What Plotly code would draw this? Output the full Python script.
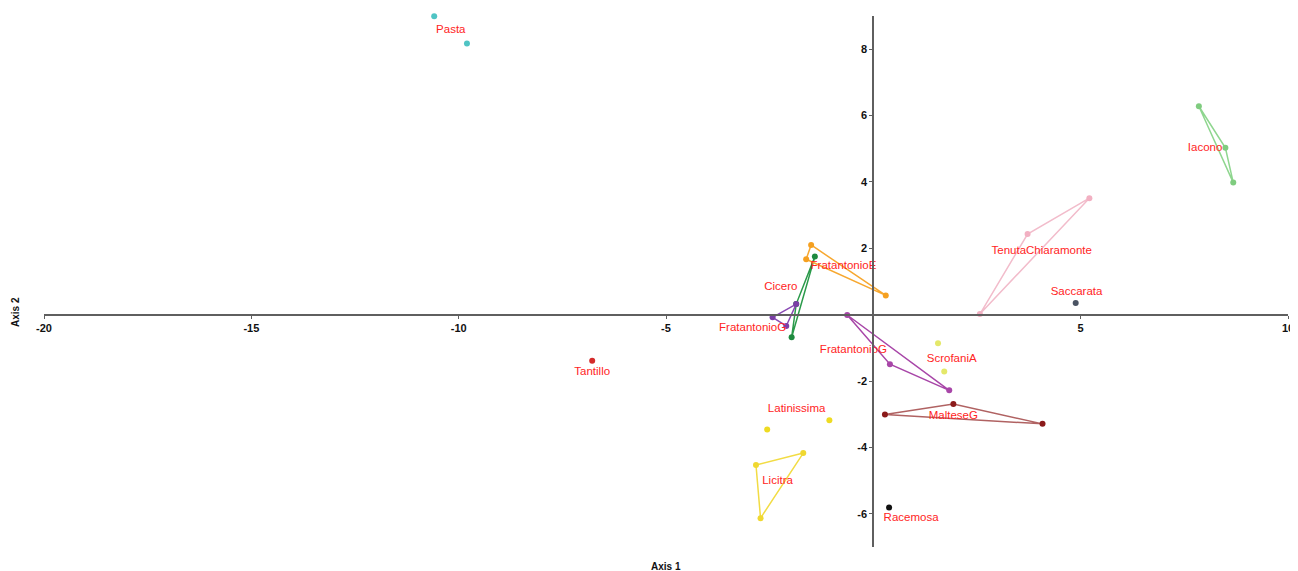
import plotly.graph_objects as go

# ---- data ----
groups = ["Pasta", "Tantillo", "Cicero", "FratantonioE", "FratantonioG", "FratantonioG2",
          "Iacono", "TenutaChiaramonte", "Saccarata", "ScrofaniA", "MalteseG",
          "Latinissima", "Licitra", "Racemosa"]
labels = ["Pasta", "Tantillo", "Cicero", "FratantonioE", "FratantonioG", "FratantonioG",
          "Iacono", "TenutaChiaramonte", "Saccarata", "ScrofaniA", "MalteseG",
          "Latinissima", "Licitra", "Racemosa"]
xs = [
    [-10.59, -9.80],
    [-6.78],
    [-1.41, -1.86, -1.97],
    [-1.50, 0.30, -1.62],
    [-2.43, -1.86, -2.10],
    [-0.63, 0.40, 1.83],
    [7.85, 8.49, 8.68],
    [5.21, 3.72, 2.57],
    [4.88],
    [1.56, 1.71],
    [0.28, 1.93, 4.08],
    [-2.56, -1.06],
    [-2.83, -1.69, -2.72],
    [0.38],
]
ys = [
    [8.99, 8.17],
    [-1.39],
    [1.75, 0.32, -0.68],
    [2.10, 0.58, 1.67],
    [-0.08, 0.32, -0.34],
    [-0.01, -1.49, -2.28],
    [6.28, 5.03, 3.98],
    [3.51, 2.43, 0.02],
    [0.35],
    [-0.86, -1.71],
    [-3.01, -2.69, -3.29],
    [-3.46, -3.18],
    [-4.53, -4.17, -6.13],
    [-5.81],
]
label_x = [-10.19, -6.78, -2.23, -0.72, -2.91, -0.48, 8.00, 4.06, 4.90, 1.89, 1.93, -1.85, -2.31, 0.91]
label_y = [8.56, -1.72, 0.84, 1.45, -0.39, -1.06, 5.03, 1.92, 0.67, -1.33, -3.07, -2.84, -5.03, -6.13]
colors = ["#4fc4c4", "#d42a2a", "#1f8a3f", "#f5a020", "#7b3fa6", "#a846a8",
          "#7fcc7f", "#f2b0c2", "#4a5363", "#e4e86a", "#8b1a1a",
          "#eedb22", "#f0d830", "#111111"]
line_colors = ["#4fc4c4", "#d42a2a", "#2a9a4a", "#f7a830", "#8a4ab4", "#a846a8",
               "#8fd68f", "#f2bccb", "#4a5363", "#e4e86a", "#b06262",
               "#eedb22", "#f2dc44", "#111111"]

x_ticks = [-20, -15, -10, -5, 5, 10]
y_ticks = [-6, -4, -2, 2, 4, 6, 8]
x_range = [-20, 10]
y_range = [-7, 9]

fig = go.Figure()
for g, x, y, c, lc in zip(groups, xs, ys, colors, line_colors):
    if len(x) >= 3:
        fig.add_trace(go.Scatter(x=x + [x[0]], y=y + [y[0]], mode="lines",
                                 line=dict(color=lc, width=1.5), hoverinfo="skip",
                                 showlegend=False))
    fig.add_trace(go.Scatter(x=x, y=y, mode="markers", name=g,
                             marker=dict(color=c, size=6), showlegend=False,
                             cliponaxis=False))

fig.add_trace(go.Scatter(x=label_x, y=label_y, mode="text", text=labels,
                         textfont=dict(color="#ff2424", size=11.5, family="Liberation Sans, Arial"),
                         showlegend=False, cliponaxis=False))

xpos = (0 - y_range[0]) / (y_range[1] - y_range[0])
ypos = (0 - x_range[0]) / (x_range[1] - x_range[0])

axis_common = dict(showgrid=False, zeroline=False, showline=True, linecolor="#5f5f5f",
                   linewidth=2, ticks="outside", ticklen=3, tickwidth=1, tickcolor="#5f5f5f",
                   tickfont=dict(size=11, color="#111111", family="Liberation Sans, Arial",
                                 weight="bold"),
                   anchor="free", automargin=False)
fig.update_xaxes(range=x_range, tickvals=x_ticks, ticktext=[str(v) for v in x_ticks],
                 position=xpos, **axis_common)
fig.update_yaxes(range=y_range, tickvals=y_ticks, ticktext=[str(v) for v in y_ticks],
                 position=ypos, **axis_common)

# plot area in screen pixels: x 44..1288, y 16..547 (page body has an 8px offset)
fig.add_annotation(text="<b>Axis 1</b>", xref="paper", yref="paper", x=(666 - 44) / 1244,
                   y=(547 - 566) / 531, xanchor="center", yanchor="middle", showarrow=False,
                   font=dict(size=10, color="#111111", family="Liberation Sans, Arial"))
fig.add_annotation(text="<b>Axis 2</b>", xref="paper", yref="paper", x=(15 - 44) / 1244,
                   y=(547 - 312) / 531, xanchor="center", yanchor="middle", showarrow=False,
                   textangle=-90,
                   font=dict(size=10, color="#111111", family="Liberation Sans, Arial"))

fig.update_layout(width=1290, height=563, plot_bgcolor="white", paper_bgcolor="white",
                  margin=dict(l=36, r=10, t=8, b=24, autoexpand=False),
                  font=dict(family="Liberation Sans, Arial"))
fig.write_html("out.html", post_script="document.body.style.overflow='hidden';")
